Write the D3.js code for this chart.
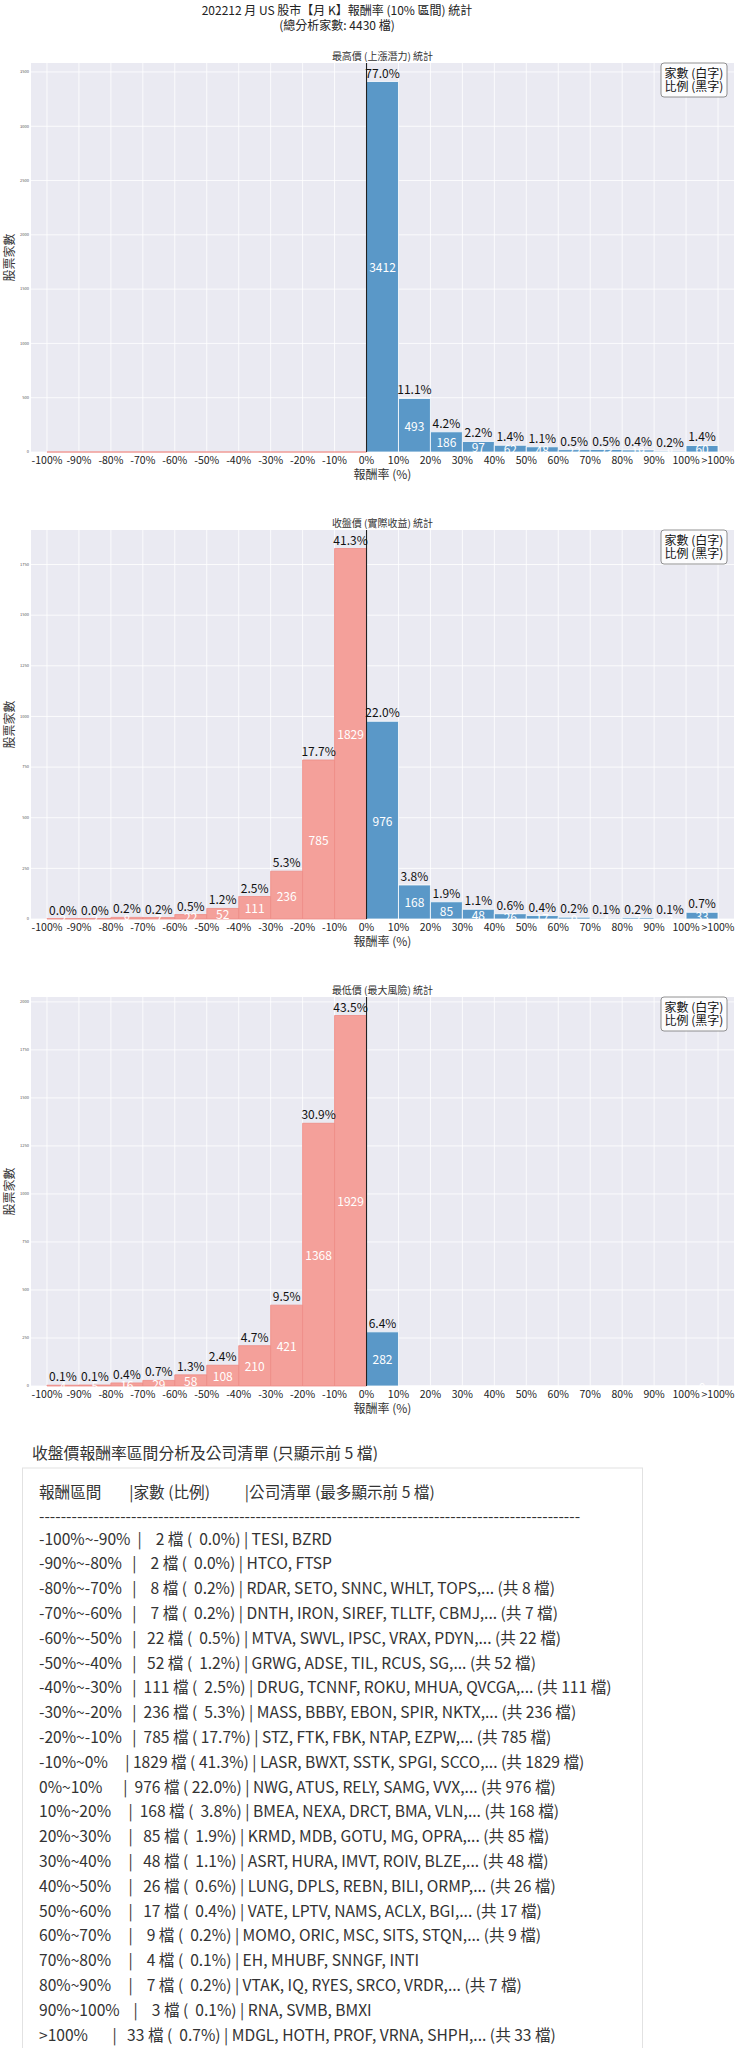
<!DOCTYPE html>
<html>
<head>
<meta charset="utf-8">
<script src="https://cdn.jsdelivr.net/npm/d3@7"></script>
<style>
  body { margin: 0; background: #fff; }
  text { font-family: "Noto Sans CJK TC", "Noto Sans CJK SC", "Noto Sans", sans-serif; }
</style>
</head>
<body>
<svg id="fig" width="736" height="2048"></svg>
<script>
// ---- data ----
var xTickLabels = ["-100%", "-90%", "-80%", "-70%", "-60%", "-50%", "-40%", "-30%", "-20%", "-10%",
                   "0%", "10%", "20%", "30%", "40%", "50%", "60%", "70%", "80%", "90%", "100%", ">100%"];
var highCounts  = [0, 0, 0, 0, 0, 0, 0, 0, 0, 0, 3412, 493, 186, 97, 62, 48, 22, 23, 19, 8, 60];
var closeCounts = [2, 2, 8, 7, 22, 52, 111, 236, 785, 1829, 976, 168, 85, 48, 26, 17, 9, 4, 7, 3, 33];
var lowCounts   = [4, 5, 16, 29, 58, 108, 210, 421, 1368, 1929, 282, 0, 0, 0, 0, 0, 0, 0, 0, 0, 0];
var chartTitles = ["最高價 (上漲潛力) 統計", "收盤價 (實際收益) 統計", "最低價 (最大風險) 統計"];
var yTickSteps  = [500, 250, 250];
var total = 4430;

var rangeLabels = ["-100%~-90%", "-90%~-80%", "-80%~-70%", "-70%~-60%", "-60%~-50%", "-50%~-40%",
                   "-40%~-30%", "-30%~-20%", "-20%~-10%", "-10%~0%", "0%~10%", "10%~20%", "20%~30%",
                   "30%~40%", "40%~50%", "50%~60%", "60%~70%", "70%~80%", "80%~90%", "90%~100%", ">100%"];
var companies = [
  "TESI, BZRD", "HTCO, FTSP", "RDAR, SETO, SNNC, WHLT, TOPS", "DNTH, IRON, SIREF, TLLTF, CBMJ",
  "MTVA, SWVL, IPSC, VRAX, PDYN", "GRWG, ADSE, TIL, RCUS, SG", "DRUG, TCNNF, ROKU, MHUA, QVCGA",
  "MASS, BBBY, EBON, SPIR, NKTX", "STZ, FTK, FBK, NTAP, EZPW", "LASR, BWXT, SSTK, SPGI, SCCO",
  "NWG, ATUS, RELY, SAMG, VVX", "BMEA, NEXA, DRCT, BMA, VLN", "KRMD, MDB, GOTU, MG, OPRA",
  "ASRT, HURA, IMVT, ROIV, BLZE", "LUNG, DPLS, REBN, BILI, ORMP", "VATE, LPTV, NAMS, ACLX, BGI",
  "MOMO, ORIC, MSC, SITS, STQN", "EH, MHUBF, SNNGF, INTI", "VTAK, IQ, RYES, SRCO, VRDR",
  "RNA, SVMB, BMXI", "MDGL, HOTH, PROF, VRNA, SHPH"];

var pink = "#f4a09a", blue = "#5a98c8";
var svg = d3.select("#fig");

// main title
svg.append("text").attr("x", 337).attr("y", 14.5).attr("text-anchor", "middle")
   .attr("font-size", 12).attr("fill", "#222")
   .text("202212 月 US 股市【月 K】報酬率 (10% 區間) 統計");
svg.append("text").attr("x", 337).attr("y", 29.5).attr("text-anchor", "middle")
   .attr("font-size", 12).attr("fill", "#222")
   .text("(總分析家數: 4430 檔)");

var x = d3.scaleLinear().domain([-0.5, 21.5]).range([31, 734]);
var plotH = 389;
var tops = [63, 530, 997];
var allCounts = [highCounts, closeCounts, lowCounts];

allCounts.forEach(function(counts, k) {
    var top = tops[k], base = top + plotH;
    var y = d3.scaleLinear().domain([0, d3.max(counts) * 1.05]).range([base, top]);
    var g = svg.append("g");
    var bins = counts.map((c, i) => ({ c: c, i: i }));

    g.append("rect").attr("x", x(-0.5)).attr("y", top)
     .attr("width", x(21.5) - x(-0.5)).attr("height", plotH).attr("fill", "#eaeaf2");

    // grid
    var yt = d3.range(0, y.domain()[1], yTickSteps[k]);
    g.selectAll(".hg").data(yt).enter().append("line")
     .attr("x1", x(-0.5)).attr("x2", x(21.5)).attr("y1", d => y(d)).attr("y2", d => y(d))
     .attr("stroke", "#fff").attr("stroke-width", 0.8);
    g.selectAll(".vg").data(xTickLabels).enter().append("line")
     .attr("x1", (d, i) => x(i)).attr("x2", (d, i) => x(i)).attr("y1", top).attr("y2", base)
     .attr("stroke", "#fff").attr("stroke-width", 0.8);

    // y tick labels (tiny in the original)
    g.selectAll(".yl").data(yt).enter().append("text")
     .attr("x", 29).attr("y", d => y(d) + 1.3).attr("text-anchor", "end")
     .attr("font-size", 4).attr("fill", "#555").text(d => d);

    // bars
    g.selectAll(".bar").data(bins).enter().append("path")
     .attr("d", b => "M" + x(b.i) + "," + y(0) + "V" + y(b.c) + "H" + x(b.i + 1) + "V" + y(0) + "Z")
     .attr("fill", b => b.i < 10 ? pink : blue)
     .attr("stroke", b => b.i < 10 ? "#ee8c85" : "#ffffff")
     .attr("stroke-width", 0.8);

    // zero line
    g.append("line").attr("x1", x(10)).attr("x2", x(10)).attr("y1", top).attr("y2", base)
     .attr("stroke", "#222").attr("stroke-width", 1.1);

    // counts (white, mid-bar) and ratios (black, above bar)
    g.selectAll(".cnt").data(bins.filter(b => b.c > 0 || b.i === counts.length - 1))
     .enter().append("text")
     .attr("x", b => (x(b.i) + x(b.i + 1)) / 2).attr("y", b => y(b.c / 2))
     .attr("text-anchor", "middle").attr("dominant-baseline", "central")
     .attr("font-size", 12).attr("fill", "#fff").text(b => b.c);
    g.selectAll(".pct").data(bins.filter(b => b.c > 0))
     .enter().append("text")
     .attr("x", b => (x(b.i) + x(b.i + 1)) / 2).attr("y", b => y(b.c) - 4)
     .attr("text-anchor", "middle").attr("font-size", 12).attr("fill", "#111")
     .text(b => (b.c / total * 100).toFixed(1) + "%");

    // x tick labels
    g.selectAll(".xl").data(xTickLabels).enter().append("text")
     .attr("x", (d, i) => x(i)).attr("y", base + 12).attr("text-anchor", "middle")
     .attr("font-size", 10.5).attr("fill", "#222").text(d => d);

    // titles
    g.append("text").attr("x", (x(-0.5) + x(21.5)) / 2).attr("y", top - 3)
     .attr("text-anchor", "middle").attr("font-size", 10).attr("fill", "#333").text(chartTitles[k]);
    g.append("text").attr("x", (x(-0.5) + x(21.5)) / 2).attr("y", base + 26.5)
     .attr("text-anchor", "middle").attr("font-size", 12).attr("fill", "#333").text("報酬率 (%)");
    g.append("text").attr("transform", "translate(14," + (top + plotH / 2) + ") rotate(-90)")
     .attr("text-anchor", "middle").attr("font-size", 12).attr("fill", "#333").text("股票家數");

    // legend box
    var lg = g.append("g").attr("transform", "translate(661," + top + ")");
    lg.append("rect").attr("width", 66).attr("height", 34).attr("rx", 3)
      .attr("fill", "#fff").attr("fill-opacity", 0.85).attr("stroke", "#777").attr("stroke-width", 0.8);
    lg.append("text").attr("x", 33).attr("y", 14.5).attr("text-anchor", "middle")
      .attr("font-size", 12).attr("fill", "#111").text("家數 (白字)");
    lg.append("text").attr("x", 33).attr("y", 27.5).attr("text-anchor", "middle")
      .attr("font-size", 12).attr("fill", "#111").text("比例 (黑字)");
});

// ---- table ----
svg.append("text").attr("x", 32).attr("y", 1458.5).attr("font-size", 15.8).attr("fill", "#333")
   .text("收盤價報酬率區間分析及公司清單 (只顯示前 5 檔)");
svg.append("rect").attr("x", 22.5).attr("y", 1468).attr("width", 620).attr("height", 600)
   .attr("fill", "none").attr("stroke", "#e2e2e2").attr("stroke-width", 1);

function pad(s, n) { return s + " ".repeat(Math.max(0, n - s.length)); }
function lpad(s, n) { return " ".repeat(Math.max(0, n - s.length)) + s; }

var lines = [];
lines.push({ y: 1497.5, t: pad("報酬區間", 12) + "|" + pad("家數 (比例)", 17) + "|公司清單 (最多顯示前 5 檔)" });
lines.push({ y: 1521.5, t: "-".repeat(100) });
rangeLabels.forEach(function(lab, i) {
    var c = closeCounts[i];
    var pct = (c / total * 100).toFixed(1);
    var names = companies[i] + (c > 5 ? ",... (共 " + c + " 檔)" : "");
    lines.push({ y: 1544.5 + i * 24.8,
                 t: pad(lab, 12) + "| " + lpad(String(c), 4) + " 檔 (" + lpad(pct, 5) + "%) | " + names });
});
svg.selectAll(".row").data(lines).enter().append("text")
   .attr("x", 39).attr("y", d => d.y).attr("font-size", 15.6).attr("fill", "#333")
   .attr("xml:space", "preserve").style("white-space", "pre")
   .text(d => d.t);
</script>
</body>
</html>
